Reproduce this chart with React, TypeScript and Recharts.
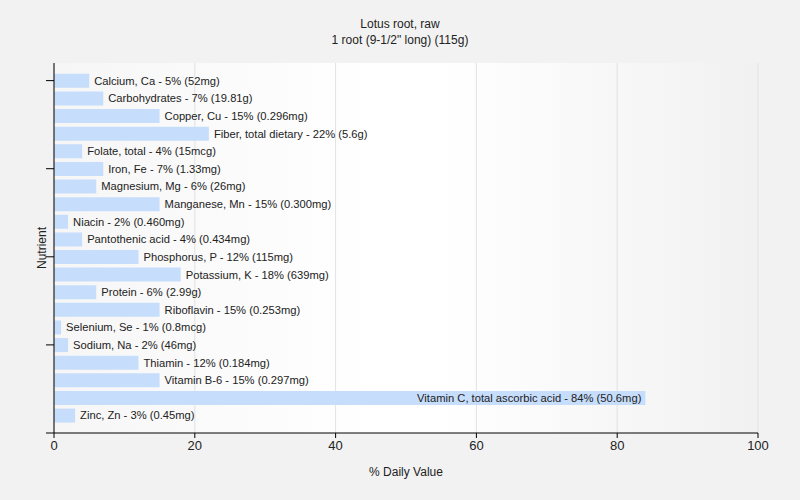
import React from 'react';
import { BarChart, Bar, XAxis, YAxis, CartesianGrid, LabelList } from 'recharts';

const nutrients = [
  'Calcium, Ca', 'Carbohydrates', 'Copper, Cu', 'Fiber, total dietary', 'Folate, total',
  'Iron, Fe', 'Magnesium, Mg', 'Manganese, Mn', 'Niacin', 'Pantothenic acid',
  'Phosphorus, P', 'Potassium, K', 'Protein', 'Riboflavin', 'Selenium, Se',
  'Sodium, Na', 'Thiamin', 'Vitamin B-6', 'Vitamin C, total ascorbic acid', 'Zinc, Zn',
];
const dailyValues = [5, 7, 15, 22, 4, 7, 6, 15, 2, 4, 12, 18, 6, 15, 1, 2, 12, 15, 84, 3];
const amounts = [
  '52mg', '19.81g', '0.296mg', '5.6g', '15mcg',
  '1.33mg', '26mg', '0.300mg', '0.460mg', '0.434mg',
  '115mg', '639mg', '2.99g', '0.253mg', '0.8mcg',
  '46mg', '0.184mg', '0.297mg', '50.6mg', '0.45mg',
];
const xTicks = [0, 20, 40, 60, 80, 100];
const yTicks = [0, 5, 10, 15, 20];

const data = nutrients.map((n, i) => ({
  idx: i,
  value: dailyValues[i],
  label: `${n} - ${dailyValues[i]}% (${amounts[i]})`,
}));

const PLOT_LEFT = 54;
const PLOT_RIGHT = 758;
const PLOT_TOP = 63;
const PLOT_BOTTOM = 433;
const Y_AXIS_W = 20;
const X_AXIS_H = 30;
const FONT = '"Liberation Sans", Arial, sans-serif';

const renderLabel = (props: any) => {
  const { x, y, width, height, value } = props;
  const text = String(value);
  const est = text.length * 5.5;
  const end = x + width;
  const cy = y + height / 2;
  if (end + 5 + est > PLOT_RIGHT) {
    return (
      <text x={end - 4} y={cy} dy="0.35em" textAnchor="end" fontSize={11.2} fontFamily={FONT} fill="#222">
        {text}
      </text>
    );
  }
  return (
    <text x={end + 5} y={cy} dy="0.35em" textAnchor="start" fontSize={11.2} fontFamily={FONT} fill="#222">
      {text}
    </text>
  );
};

export default function App() {
  return (
    <div style={{ position: 'absolute', left: 0, top: 0, width: 800, height: 500, background: '#f2f2f2', fontFamily: FONT, overflow: 'hidden' }}>
      <div
        style={{
          position: 'absolute',
          left: PLOT_LEFT,
          top: PLOT_TOP,
          width: PLOT_RIGHT - PLOT_LEFT,
          height: PLOT_BOTTOM - PLOT_TOP,
          background: 'linear-gradient(to right, #f6f6f6 0%, #ffffff 45%, #ffffff 55%, #f1f1f1 100%)',
        }}
      />
      <div style={{ position: 'absolute', left: 0, top: 16, width: 800, textAlign: 'center', fontSize: 12, lineHeight: '16px', color: '#222' }}>
        <div>Lotus root, raw</div>
        <div>1 root (9-1/2" long) (115g)</div>
      </div>
      <div style={{ position: 'absolute', left: PLOT_LEFT, width: PLOT_RIGHT - PLOT_LEFT, top: 465, textAlign: 'center', fontSize: 12, color: '#222' }}>
        % Daily Value
      </div>
      <div
        style={{
          position: 'absolute',
          left: 42,
          top: 248,
          fontSize: 12,
          color: '#222',
          transform: 'translate(-50%, -50%) rotate(-90deg)',
          whiteSpace: 'nowrap',
        }}
      >
        Nutrient
      </div>
      <div style={{ position: 'absolute', left: 0, top: 0 }}>
        <BarChart
          width={800}
          height={500}
          data={data}
          layout="vertical"
          margin={{ top: PLOT_TOP, right: 800 - PLOT_RIGHT, bottom: 500 - PLOT_BOTTOM - X_AXIS_H, left: PLOT_LEFT - Y_AXIS_W }}
        >
          <CartesianGrid horizontal={false} vertical stroke="#e2e2e2" strokeWidth={1} />
          <XAxis
            type="number"
            domain={[0, 100]}
            ticks={xTicks}
            height={X_AXIS_H}
            tickSize={5}
            tickMargin={3}
            stroke="#000"
            tick={{ fontSize: 13, fill: '#222', fontFamily: FONT }}
            interval={0}
          />
          <YAxis
            type="number"
            dataKey="idx"
            domain={[-1, 20]}
            ticks={yTicks}
            width={Y_AXIS_W}
            tickSize={8}
            stroke="#000"
            tickFormatter={() => ''}
            interval={0}
            allowDataOverflow
          />
          <Bar dataKey="value" fill="#c6ddfb" barSize={14} isAnimationActive={false}>
            <LabelList dataKey="label" content={renderLabel} />
          </Bar>
        </BarChart>
      </div>
    </div>
  );
}
